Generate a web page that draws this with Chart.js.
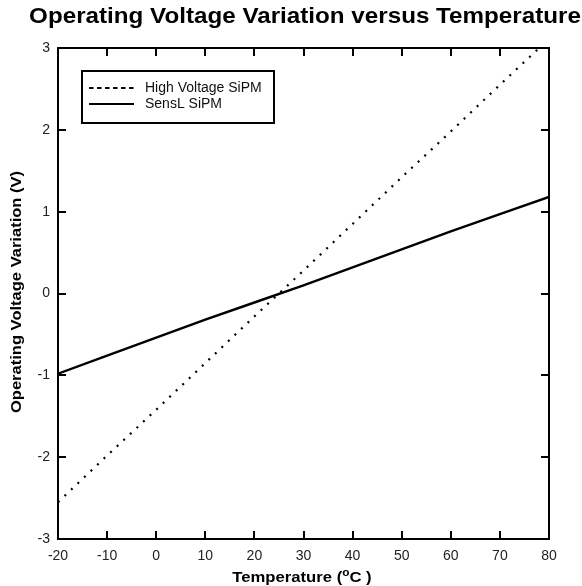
<!DOCTYPE html>
<html>
<head>
<meta charset="utf-8">
<script src="https://cdn.jsdelivr.net/npm/chart.js@4"></script>
<style>
html,body{margin:0;padding:0;background:#fff;}
#wrap{width:582px;height:586px;position:relative;}
</style>
</head>
<body>
<div id="wrap"><canvas id="voltChart" width="582" height="586"></canvas></div>
<script>

/* ============================= */
/* DATA */
/* ============================= */

const titleText = "Operating Voltage Variation versus Temperature"
const xTitle = "Temperature"
const yTitle = "Operating Voltage Variation (V)"

const seriesNames = ["High Voltage SiPM","SensL SiPM"]

const hvTemp = [-20,-10,0,10,20,25,30,40,50,60,70,78]
const hvVolt = [-2.55,-1.98,-1.42,-0.85,-0.28,0,0.28,0.85,1.42,1.98,2.55,3.0]

const slTemp = [-20,-10,0,10,20,30,40,50,60,70,80]
const slVolt = [-0.98,-0.76,-0.54,-0.32,-0.11,0.10,0.32,0.54,0.76,0.97,1.18]

const xTicks = [-20,-10,0,10,20,30,40,50,60,70,80]
const yTicks = [-3,-2,-1,0,1,2,3]

const FONT = "'Liberation Sans', Arial, sans-serif"

/* draw text squeezed/stretched to look like the wide bold face */
function wideText(ctx,txt,x,y,sx){
ctx.save()
ctx.translate(x,y)
ctx.scale(sx,1)
ctx.fillText(txt,0,0)
ctx.restore()
}

/* ============================= */
/* FRAME + TICKS + TEXT PLUGIN */
/* ============================= */

const framePlugin = {
id:"frame",
afterDraw(chart){

const ctx = chart.ctx
const a = chart.chartArea
const xs = chart.scales.x
const ys = chart.scales.y
const tl = 8

ctx.save()
ctx.strokeStyle = "#000"
ctx.lineWidth = 2
ctx.strokeRect(a.left,a.top,a.right-a.left,a.bottom-a.top)

ctx.beginPath()
xTicks.forEach(v=>{
const px = Math.round(xs.getPixelForValue(v))
ctx.moveTo(px,a.bottom); ctx.lineTo(px,a.bottom-tl)
ctx.moveTo(px,a.top); ctx.lineTo(px,a.top+tl)
})
yTicks.forEach(v=>{
const py = Math.round(ys.getPixelForValue(v))
ctx.moveTo(a.left,py); ctx.lineTo(a.left+tl,py)
ctx.moveTo(a.right,py); ctx.lineTo(a.right-tl,py)
})
ctx.stroke()

/* title */
ctx.fillStyle = "#000"
ctx.font = "bold 22px " + FONT
ctx.textAlign = "center"
ctx.textBaseline = "middle"
wideText(ctx,titleText,305,17,1.1)

/* x axis title with superscript o */
const sx = 1.19
ctx.textAlign = "left"
ctx.textBaseline = "alphabetic"
const p1 = xTitle + " ("
const p3 = "C )"
ctx.font = "bold 14px " + FONT
const w1 = ctx.measureText(p1).width*sx
const w3 = ctx.measureText(p3).width*sx
ctx.font = "bold 10px " + FONT
const w2 = ctx.measureText("o").width*sx
let x0 = 302 - (w1+w2+w3)/2
ctx.font = "bold 14px " + FONT
wideText(ctx,p1,x0,582,sx)
ctx.font = "bold 10px " + FONT
wideText(ctx,"o",x0+w1,576,sx)
ctx.font = "bold 14px " + FONT
wideText(ctx,p3,x0+w1+w2,582,sx)

/* y axis title */
ctx.save()
ctx.translate(17,292)
ctx.rotate(-Math.PI/2)
ctx.textAlign = "center"
ctx.textBaseline = "middle"
ctx.font = "bold 14px " + FONT
wideText(ctx,yTitle,0,0,1.18)
ctx.restore()

/* legend box */
ctx.lineWidth = 2
ctx.strokeRect(82,71,192,52)
ctx.beginPath()
ctx.setLineDash([4.5,3.5])
ctx.moveTo(89,88); ctx.lineTo(134,88)
ctx.stroke()
ctx.setLineDash([])
ctx.beginPath()
ctx.moveTo(89,104); ctx.lineTo(134,104)
ctx.stroke()
ctx.font = "14px " + FONT
ctx.textAlign = "left"
ctx.textBaseline = "middle"
ctx.fillStyle = "#111"
ctx.fillText(seriesNames[0],145,88)
ctx.fillText(seriesNames[1],145,104)

ctx.restore()
}
}

/* ============================= */
/* CHART */
/* ============================= */

const voltChart = new Chart(
document.getElementById("voltChart"),
{
type:"line",

data:{
datasets:[
{
label:seriesNames[0],
data:hvTemp.map((t,i)=>({x:t,y:hvVolt[i]})),
borderColor:"#000",
borderWidth:2.2,
borderDash:[2,7],
pointRadius:0,
tension:0,
fill:false
},
{
label:seriesNames[1],
data:slTemp.map((t,i)=>({x:t,y:slVolt[i]})),
borderColor:"#000",
borderWidth:2.4,
pointRadius:0,
tension:0,
fill:false
}
]
},

options:{
animation:false,
responsive:false,
layout:{padding:{left:0,right:33,top:48,bottom:0}},
plugins:{
legend:{display:false},
title:{display:false},
tooltip:{enabled:false}
},
scales:{
x:{
type:"linear",
min:-20,
max:80,
afterBuildTicks:s=>{s.ticks=xTicks.map(v=>({value:v}))},
afterFit:s=>{s.height=47},
grid:{display:false,drawTicks:false},
border:{display:false},
ticks:{
padding:9,
color:"#222",
font:{family:FONT,size:14},
maxRotation:0
}
},
y:{
min:-3,
max:3,
afterBuildTicks:s=>{s.ticks=yTicks.map(v=>({value:v}))},
afterFit:s=>{s.width=58},
grid:{display:false,drawTicks:false},
border:{display:false},
ticks:{
padding:8,
color:"#222",
font:{family:FONT,size:14}
}
}
}
},

plugins:[framePlugin]
});

</script>
</body>
</html>
